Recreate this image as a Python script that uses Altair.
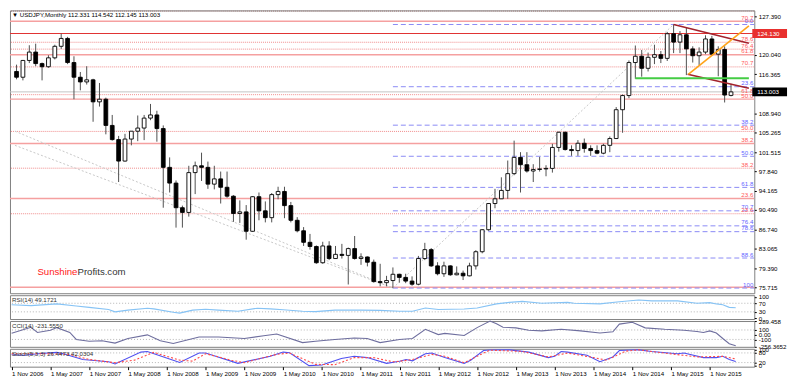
import altair as alt
import pandas as pd

# ---------------- data ----------------
# month index 0 = Nov 2006 ... 112 = Mar 2016
months = list(range(113))
open_ = [116.9, 115.8, 119.0, 120.6, 118.4, 117.8, 119.5, 121.7, 123.2, 118.6,
         115.8, 114.9, 115.3, 111.1, 111.6, 106.6, 103.9, 99.8, 104.0, 105.5,
         106.1, 108.0, 108.6, 106.0, 98.6, 95.6, 90.9, 90.0, 97.6, 98.9,
         98.6, 95.4, 96.4, 94.8, 93.1, 89.8, 90.1, 86.4, 93.0, 90.3,
         89.0, 93.4, 94.0, 91.3, 88.5, 86.5, 84.3, 83.5, 80.4, 83.6,
         81.2, 82.0, 81.8, 83.1, 81.2, 81.5, 80.5, 76.8, 76.6, 77.0,
         78.2, 77.6, 76.9, 76.3, 81.2, 82.9, 79.8, 78.3, 79.8, 78.1,
         78.4, 77.9, 79.8, 82.5, 86.7, 91.7, 92.6, 94.2, 97.4, 100.5,
         99.1, 97.9, 98.2, 98.3, 98.4, 102.4, 105.3, 102.0, 101.8, 103.2,
         102.2, 101.8, 101.3, 102.8, 104.1, 109.6, 112.3, 118.6, 119.8, 117.5,
         119.6, 120.1, 119.4, 124.1, 122.5, 123.9, 121.2, 119.9, 120.6, 123.1,
         120.2, 121.1, 112.331]
high = [118.2, 119.1, 121.9, 122.2, 118.6, 120.0, 122.0, 124.13, 123.5, 119.8,
        116.8, 117.9, 115.5, 114.7, 111.9, 108.6, 104.6, 105.0, 105.5, 108.5,
        108.6, 110.7, 109.4, 106.6, 100.5, 96.1, 91.3, 98.9, 99.7, 101.4,
        99.7, 98.9, 97.8, 97.8, 93.3, 92.3, 91.4, 93.1, 93.8, 92.1,
        93.7, 94.9, 94.9, 92.0, 89.1, 87.2, 85.9, 83.7, 84.4, 84.5,
        83.6, 84.0, 83.3, 85.5, 82.2, 81.6, 81.0, 80.2, 77.9, 79.5,
        78.3, 78.3, 77.8, 81.7, 84.2, 83.2, 80.5, 80.6, 79.9, 79.7,
        78.9, 80.4, 82.8, 86.8, 91.8, 94.5, 96.7, 99.9, 103.7, 101.5,
        101.5, 99.2, 100.6, 99.0, 103.1, 105.4, 105.4, 102.8, 103.8, 104.1,
        102.8, 102.8, 103.1, 104.5, 110.1, 112.5, 119.0, 121.85, 121.0, 120.5,
        122.0, 120.8, 124.45, 125.86, 124.6, 125.3, 121.7, 121.5, 123.8, 123.7,
        121.7, 121.7, 114.542]
low = [115.4, 115.2, 118.5, 117.9, 115.2, 117.6, 119.2, 121.2, 118.3, 111.6,
       113.3, 114.4, 107.3, 110.2, 104.9, 103.7, 95.8, 99.7, 102.8, 103.6,
       103.8, 107.6, 103.5, 90.9, 93.8, 87.1, 87.1, 89.2, 93.5, 96.0,
       94.5, 94.4, 91.7, 92.8, 88.2, 88.0, 84.8, 86.3, 88.5, 88.1,
       88.1, 92.5, 88.9, 88.1, 86.2, 83.6, 82.9, 80.2, 80.2, 80.9,
       81.2, 81.2, 76.25, 81.0, 80.0, 79.7, 76.6, 75.9, 75.9, 75.56,
       76.6, 76.5, 76.0, 76.1, 80.9, 79.6, 78.0, 77.7, 77.9, 78.0,
       77.1, 77.8, 79.1, 82.2, 86.5, 90.8, 92.6, 92.6, 97.1, 93.8,
       97.6, 95.8, 97.8, 96.9, 97.6, 101.6, 101.8, 100.8, 100.8, 101.4,
       100.8, 101.1, 101.1, 101.5, 104.0, 105.2, 111.8, 115.5, 115.9, 116.9,
       118.3, 118.5, 118.9, 120.4, 120.4, 116.2, 118.6, 118.1, 120.2, 119.9,
       115.98, 110.98, 112.145]
close = [115.8, 119.0, 120.6, 118.4, 117.8, 119.5, 121.7, 123.2, 118.6, 115.8,
         114.9, 115.3, 111.1, 111.6, 106.6, 103.9, 99.8, 104.0, 105.5, 106.1,
         108.0, 108.6, 106.0, 98.6, 95.6, 90.9, 90.0, 97.6, 98.9, 98.6,
         95.4, 96.4, 94.8, 93.1, 89.8, 90.1, 86.4, 93.0, 90.3, 89.0,
         93.4, 94.0, 91.3, 88.5, 86.5, 84.3, 83.5, 80.4, 83.6, 81.2,
         82.0, 81.8, 83.1, 81.2, 81.5, 80.5, 76.8, 76.6, 77.0, 78.2,
         77.6, 76.9, 76.3, 81.2, 82.9, 79.8, 78.3, 79.8, 78.1, 78.4,
         77.9, 79.8, 82.5, 86.7, 91.7, 92.6, 94.2, 97.4, 100.5, 99.1,
         97.9, 98.2, 98.3, 98.4, 102.4, 105.3, 102.0, 101.8, 103.2, 102.2,
         101.8, 101.3, 102.8, 104.1, 109.6, 112.3, 118.6, 119.8, 117.5, 119.6,
         120.1, 119.4, 124.1, 122.5, 123.9, 121.2, 119.9, 120.6, 123.1, 120.2,
         121.1, 112.4, 113.003]

tick_idx = [0, 6, 12, 18, 24, 30, 36, 42, 48, 54, 60, 66, 72, 78, 84, 90, 96, 102, 108]
tick_labels = ["1 Nov 2006", "1 May 2007", "1 Nov 2007", "1 May 2008", "1 Nov 2008",
               "1 May 2009", "1 Nov 2009", "1 May 2010", "1 Nov 2010", "1 May 2011",
               "1 Nov 2011", "1 May 2012", "1 Nov 2012", "1 May 2013", "1 Nov 2013",
               "1 May 2014", "1 Nov 2014", "1 May 2015", "1 Nov 2015"]
price_ticks = [127.39, 120.04, 116.365, 108.94, 105.265, 101.515, 97.84, 94.165,
               90.49, 86.74, 83.065, 79.39, 75.715]

# Fibonacci levels
blue_levels = [125.86, 113.99, 106.65, 100.715, 94.78, 90.306, 87.44, 86.33, 81.30, 75.57]
blue_labels = ["0.0", "23.6", "38.2", "50.0", "61.8", "70.7", "76.4", "78.6", "88.6", "100"]
blue_start = 59
red_solid_levels = [126.47, 120.08, 111.61, 103.14, 92.66, 75.715]
red_solid_labels = ["70.7", "61.8", "50.0", "38.2", "23.6", ""]
red_dot_levels = [122.47, 121.16, 117.77, 112.47, 105.46, 98.44, 89.75]
red_dot_labels = ["78.6", "76.4", "70.7", "61.8", "50.0", "38.2", "23.6"]
top_dot_level = [128.42]
high_level = [124.13]
current_level = [113.003]

diag_name = ["a", "a", "b", "b", "c", "c"]
diag_i = [-0.25, 59, -0.25, 59, 59, 103]
diag_p = [105.5, 75.57, 102.8, 75.57, 75.57, 125.86]

trend_name = ["upper", "upper", "lower", "lower", "orange", "orange"]
trend_i = [103, 114.8, 105.2, 114.8, 105.3, 114.8]
trend_p = [125.86, 122.3, 116.36, 113.7, 116.36, 125.6]
green_i = [97, 114.8]
green_p = [115.6, 115.6]

title_text = "\u25BC USDJPY,Monthly  112.331 114.542 112.145 113.003"

# indicators
rsi_i = [0, 3, 7, 10, 12, 15, 16, 18, 21, 22, 25, 26, 28, 30, 32, 35, 38, 40, 42, 45,
         47, 50, 54, 57, 60, 62, 64, 66, 70, 72, 75, 77, 79, 82, 86, 87, 91, 94, 97, 99,
         103, 106, 108, 109, 110, 111, 112]
rsi_v = [63, 59, 67, 57, 51, 41, 30, 38, 47, 44, 28, 24, 38, 42, 38, 33, 47, 44, 40, 33,
         31, 38, 38, 37, 33, 33, 48, 41, 43, 48, 67, 74, 79, 70, 74, 70, 67, 77, 85, 81,
         81, 70, 73, 67, 63, 51, 49.17]
rsi_levels = [70, 30]
rsi_ticks = [100, 70, 30, 0]

cci_i = [0, 3, 4, 6, 7, 9, 10, 12, 14, 16, 18, 21, 23, 25, 29, 32, 36, 39, 41, 45,
         47, 50, 53, 55, 57, 60, 62, 64, 66, 67, 70, 72, 74, 75, 76, 78, 80, 82, 85, 88,
         91, 93, 94, 96, 98, 101, 104, 106, 107, 108, 109, 110, 111, 112]
cci_v = [30, 158, 48, 94, 150, 48, -100, -140, -128, -178, -81, -3, -128, -185, -50, -50, -81, -22, 16, -167,
         -138, -100, -69, -81, -167, -100, -81, 114, 3, 28, -16, 150, 289.458, 230, 158, 145, 94, 81, 114, 81,
         36, 62, 224, 263, 145, 114, 94, 68, 48, 81, 36, -81, -192, -231.555]
cci_levels = [100, -100]
cci_ticks = [289.458, 100, 0, -100, -256.3652]
cci_tick_labels = ["289.458", "100", "0.00", "-100", "-256.3652"]

sk_i = [0, 2, 4, 7, 8, 11, 15, 16, 20, 21, 25, 26, 29, 30, 35, 40, 42, 43, 46, 48,
        51, 53, 55, 58, 60, 61, 62, 64, 65, 67, 70, 71, 73, 74, 77, 80, 83, 84, 85, 86,
        89, 91, 93, 94, 96, 97, 99, 103, 104, 107, 109, 110, 111, 112]
sk_v = [69, 65, 75, 83, 75, 39, 25, 11, 85, 89, 35, 21, 79, 79, 15, 59, 85, 81, 1, 5,
        45, 59, 51, 15, 28, 39, 31, 75, 79, 51, 15, 35, 95, 98, 99, 85, 51, 59, 89, 85,
        65, 25, 55, 95, 98, 99, 89, 75, 79, 51, 51, 59, 39, 26.45]
sd_i = [0, 5, 9, 12, 16, 19, 22, 26, 28, 30, 34, 36, 41, 43, 47, 50, 53, 56, 59, 60,
        62, 65, 67, 70, 73, 74, 79, 83, 86, 90, 92, 95, 97, 101, 106, 110, 112]
sd_v = [75, 75, 71, 39, 19, 35, 83, 35, 29, 75, 35, 19, 71, 79, 9, 7, 51, 51, 25, 28,
        39, 71, 59, 19, 79, 97, 89, 55, 79, 51, 35, 91, 99, 79, 55, 59, 42.03]
sto_levels = [80, 20]
sto_ticks = [100, 80, 20, 0]

# ---------------- layout / style ----------------
W = 750
H_MAIN, H_RSI, H_CCI, H_STO = 285, 24, 26, 18
FONT = "Liberation Sans"
FS = 6.2

xscale = alt.Scale(domain=[-0.25, 114.87], nice=False, zero=False)


def xenc(field, axis=None):
    return alt.X(f"{field}:Q", scale=xscale, axis=axis, title=None)


def rax(values, **kw):
    return alt.Axis(orient="right", values=values, title=None, tickSize=2, labelPadding=2,
                    domain=False, grid=False, labelOverlap=False, labelFontSize=FS,
                    labelFont=FONT, labelColor="#000000", tickColor="#000000", **kw)


main_scale = alt.Scale(domain=[74.58, 128.55], nice=False, zero=False)
main_axis = rax(price_ticks, format=".3f")


def yenc(field):
    return alt.Y(f"{field}:Q", scale=main_scale, axis=main_axis, title=None)


df_c = pd.DataFrame({"i": months, "open": open_, "high": high, "low": low, "close": close})
df_b = pd.DataFrame({"level": blue_levels, "label": blue_labels, "x0": [blue_start] * len(blue_levels)})
df_rs = pd.DataFrame({"level": red_solid_levels, "label": red_solid_labels})
df_rd = pd.DataFrame({"level": red_dot_levels, "label": red_dot_labels})

rs_rules = alt.Chart(df_rs).mark_rule(color="#F5A0A0", strokeWidth=1.4).encode(y=yenc("level"))
rd_rules = alt.Chart(df_rd).mark_rule(color="#F08C8C", strokeWidth=1, strokeDash=[1, 1]).encode(y=yenc("level"))
top_rule = alt.Chart(pd.DataFrame({"level": top_dot_level})).mark_rule(
    color="#A07878", strokeWidth=1, strokeDash=[1, 1]).encode(y=yenc("level"))
cur_rule = alt.Chart(pd.DataFrame({"level": current_level})).mark_rule(
    color="#C4C4C4", strokeWidth=1).encode(y=yenc("level"))
hi_rule = alt.Chart(pd.DataFrame({"level": high_level})).mark_rule(
    color="#E03434", strokeWidth=1.1).encode(y=yenc("level"))
b_rules = alt.Chart(df_b).mark_rule(color="#8A8AF5", strokeWidth=1, strokeDash=[5, 3]).encode(
    x=xenc("x0"), x2=alt.value(W), y=yenc("level"))

diag = alt.Chart(pd.DataFrame({"name": diag_name, "i": diag_i, "p": diag_p})).mark_line(
    color="#C8C8C8", strokeWidth=1, strokeDash=[2, 2]).encode(
    x=xenc("i"), y=yenc("p"), detail="name:N")

wicks = alt.Chart(df_c).mark_rule(color="#505050", strokeWidth=1).encode(
    x=xenc("i"), y=yenc("low"), y2=alt.Y2("high"))
bodies = alt.Chart(df_c).mark_bar(size=3.8, stroke="#000000", strokeWidth=0.9).encode(
    x=xenc("i"), y=yenc("open"), y2=alt.Y2("close"),
    fill=alt.condition("datum.close >= datum.open", alt.value("#ffffff"), alt.value("#000000")))

trend = alt.Chart(pd.DataFrame({"name": trend_name, "i": trend_i, "p": trend_p})).mark_line(
    strokeWidth=1.6).encode(
    x=xenc("i"), y=yenc("p"),
    color=alt.Color("name:N", scale=alt.Scale(domain=["upper", "lower", "orange"],
                                              range=["#A3222C", "#A3222C", "#FFA31A"]), legend=None))
green = alt.Chart(pd.DataFrame({"i": green_i, "p": green_p})).mark_line(
    color="#44CC44", strokeWidth=2).encode(x=xenc("i"), y=yenc("p"))


def fib_labels(df, color):
    return alt.Chart(df).mark_text(align="right", baseline="alphabetic", dy=-1.5, fontSize=FS,
                                   font=FONT, color=color).encode(
        x=alt.value(W - 1), y=yenc("level"), text="label:N")


blue_lbl = fib_labels(df_b, "#6464FF")
rs_lbl = fib_labels(df_rs, "#FF5A5A")
rd_lbl = fib_labels(df_rd, "#FF5A5A")


def price_box(price, text, color):
    d = pd.DataFrame({"price": [price], "text": [text]})
    box = alt.Chart(d).mark_rule(strokeWidth=9, strokeCap="butt", color=color).encode(
        x=alt.value(W - 2), x2=alt.value(W + 33), y=yenc("price"))
    txt = alt.Chart(d).mark_text(align="left", baseline="middle", fontSize=FS, font=FONT,
                                 color="#ffffff").encode(
        x=alt.value(W + 3), y=yenc("price"), text="text:N")
    return box + txt


box_hi = price_box(124.13, "124.130", "#E8302E")
box_cur = price_box(113.003, "113.003", "#000000")

title = alt.Chart(pd.DataFrame({"t": [title_text]})).mark_text(
    align="left", baseline="top", fontSize=FS, font=FONT, color="#000000").encode(
    x=alt.value(2), y=alt.value(2), text="t:N")
wm1 = alt.Chart(pd.DataFrame({"t": ["Sunshine"]})).mark_text(
    align="right", baseline="alphabetic", fontSize=9.7, font=FONT, color="#FF2020").encode(
    x=alt.value(68), y=alt.value(267), text="t:N")
wm2 = alt.Chart(pd.DataFrame({"t": ["Profits.com"]})).mark_text(
    align="left", baseline="alphabetic", fontSize=9.7, font=FONT, color="#333333").encode(
    x=alt.value(68), y=alt.value(267), text="t:N")

main = alt.layer(rs_rules, rd_rules, top_rule, cur_rule, hi_rule, b_rules, diag, wicks, bodies,
                 trend, green, blue_lbl, rs_lbl, rd_lbl, box_hi, box_cur, title, wm1, wm2
                 ).properties(width=W, height=H_MAIN)


def indicator(levels, series, scale, axis, label, height, xaxis=None):
    def ye(f):
        return alt.Y(f"{f}:Q", scale=scale, axis=axis, title=None)
    layers = [alt.Chart(pd.DataFrame({"lv": levels})).mark_rule(
        color="#B4B4B4", strokeWidth=1, strokeDash=[1, 2]).encode(y=ye("lv"))]
    for xs, ys, color, dash in series:
        kw = {"strokeDash": dash} if dash else {}
        layers.append(alt.Chart(pd.DataFrame({"i": xs, "v": ys})).mark_line(
            color=color, strokeWidth=1.1, **kw).encode(x=xenc("i", xaxis), y=ye("v")))
    layers.append(alt.Chart(pd.DataFrame({"t": [label]})).mark_text(
        align="left", baseline="top", fontSize=FS, font=FONT, color="#333333").encode(
        x=alt.value(2), y=alt.value(2), text="t:N"))
    return alt.layer(*layers).properties(width=W, height=height)


rsi = indicator(rsi_levels, [(rsi_i, rsi_v, "#86C3F5", None)],
                alt.Scale(domain=[-3.5, 107.5], nice=False, zero=False), rax(rsi_ticks),
                "RSI(14) 49.1721", H_RSI)

cci_lab_js = "[" + ",".join("'%s'" % s for s in cci_tick_labels) + "]"
cci_val_js = "[" + ",".join(str(v) for v in cci_ticks) + "]"
cci = indicator(cci_levels, [(cci_i, cci_v, "#6E6E9E", None)],
                alt.Scale(domain=[-256.3652, 289.458], nice=False, zero=False),
                rax(cci_ticks, labelExpr=f"{cci_lab_js}[indexof({cci_val_js}, datum.value)]"),
                "CCI(14) -231.5550", H_CCI)

date_js = "[" + ",".join("'%s'" % s for s in tick_labels) + "]"
date_axis = alt.Axis(values=tick_idx, labelExpr=f"{date_js}[round(datum.value / 6)]",
                     labelAlign="left", labelFontSize=FS, labelFont=FONT, labelColor="#000000",
                     tickSize=3, tickColor="#000000", labelPadding=1, domain=False, grid=False,
                     labelOverlap=False, labelFlush=False, title=None, orient="bottom")
sto = indicator(sto_levels, [(sk_i, sk_v, "#5050F0", None), (sd_i, sd_v, "#FF4A4A", [2, 2])],
                alt.Scale(domain=[-5.4, 105.4], nice=False, zero=False), rax(sto_ticks),
                "Stoch(5,3,3) 26.4473 42.0304", H_STO, xaxis=date_axis)

chart = alt.vconcat(main, rsi, cci, sto, spacing=2).properties(
    padding=0, background="#ffffff", bounds="flush"
).configure(font=FONT).configure_view(stroke="#808080", strokeWidth=1)

chart.save("out.html", embed_options={"renderer": "svg", "actions": False})
